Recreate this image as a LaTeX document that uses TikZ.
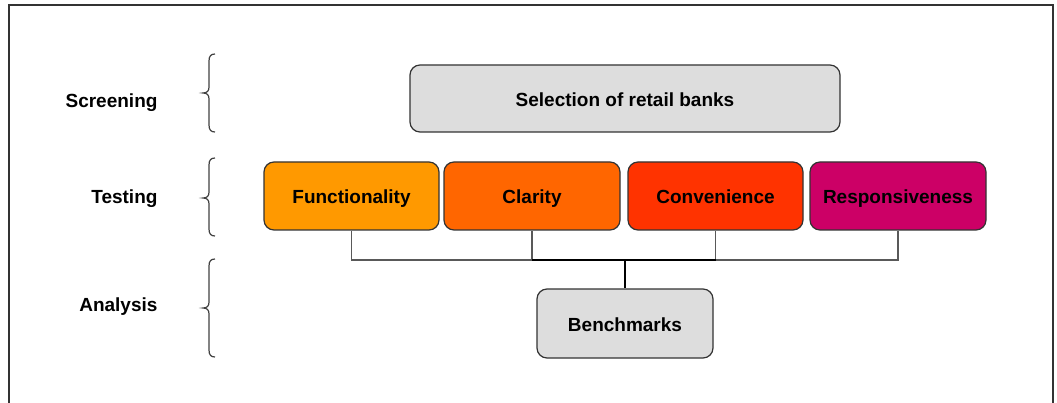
\documentclass[tikz,border=0pt]{standalone}
\usepackage{fontspec}
\setmainfont{Liberation Sans}
\begin{document}
\begin{tikzpicture}[x=1pt,y=-1pt,
  every node/.style={font=\fontsize{19}{22}\selectfont\bfseries,text height=16pt,text depth=0pt},
  stage/.style={draw=black!80,line width=1.2pt,rounded corners=10pt,inner sep=0pt,
    minimum height=68pt,text=black},
  label/.style={anchor=east},
  brace/.style={draw=black!75,line width=1.2pt},
  thinlink/.style={draw=black!65,line width=1.1pt},
  thicklink/.style={draw=black,line width=1.8pt}]
\definecolor{boxgray}{HTML}{DDDDDD}
\definecolor{cfunc}{HTML}{FF9900}
\definecolor{cclar}{HTML}{FF6600}
\definecolor{cconv}{HTML}{FF3300}
\definecolor{cresp}{HTML}{CC0066}
\useasboundingbox (0,0) rectangle (1057,403);

% open frame around the chart
\draw[draw=black!80,line width=2pt] (9,404) -- (9,5) -- (1053,5) -- (1053,404);

% stage labels
\node[label] (lscr) at (161,100) {Screening};
\node[label] (ltest) at (161,196) {Testing};
\node[label] (lana) at (161,303) {Analysis};

% curly braces next to the labels
\foreach \ya/\ym/\yb in {54/93/132, 158/198/236, 259/308/357}{
  \draw[brace] (215,\ya) .. controls (211,\ya) and (209,\ya+2) .. (209,\ya+7)
    -- (209,\ym-6) .. controls (209,\ym-2) and (207,\ym) .. (203,\ym)
    .. controls (207,\ym) and (209,\ym+2) .. (209,\ym+6)
    -- (209,\yb-7) .. controls (209,\yb-2) and (211,\yb) .. (215,\yb);
}

% boxes
\node[stage,fill=boxgray,minimum width=430pt,minimum height=67pt] (sel) at (625,98.5) {Selection of retail banks};
\node[stage,fill=cfunc,minimum width=175pt] (func) at (351.5,196) {Functionality};
\node[stage,fill=cclar,minimum width=176pt] (clar) at (532,196) {Clarity};
\node[stage,fill=cconv,minimum width=175pt] (conv) at (715.5,196) {Convenience};
\node[stage,fill=cresp,minimum width=176pt] (resp) at (898,196) {Responsiveness};
\node[stage,fill=boxgray,minimum width=176pt,minimum height=69pt] (bench) at (625,323.5) {Benchmarks};

% connectors from the tests into the benchmarks
\coordinate (j) at (625,260);
\draw[thinlink] (func.south) |- (clar.south |- j) -- (clar.south);
\draw[thinlink] (resp.south) |- (conv.south |- j) -- (conv.south);
\draw[thicklink] (clar.south |- j) -- (conv.south |- j);
\draw[thicklink] (j) -- (bench.north);
\end{tikzpicture}
\end{document}
